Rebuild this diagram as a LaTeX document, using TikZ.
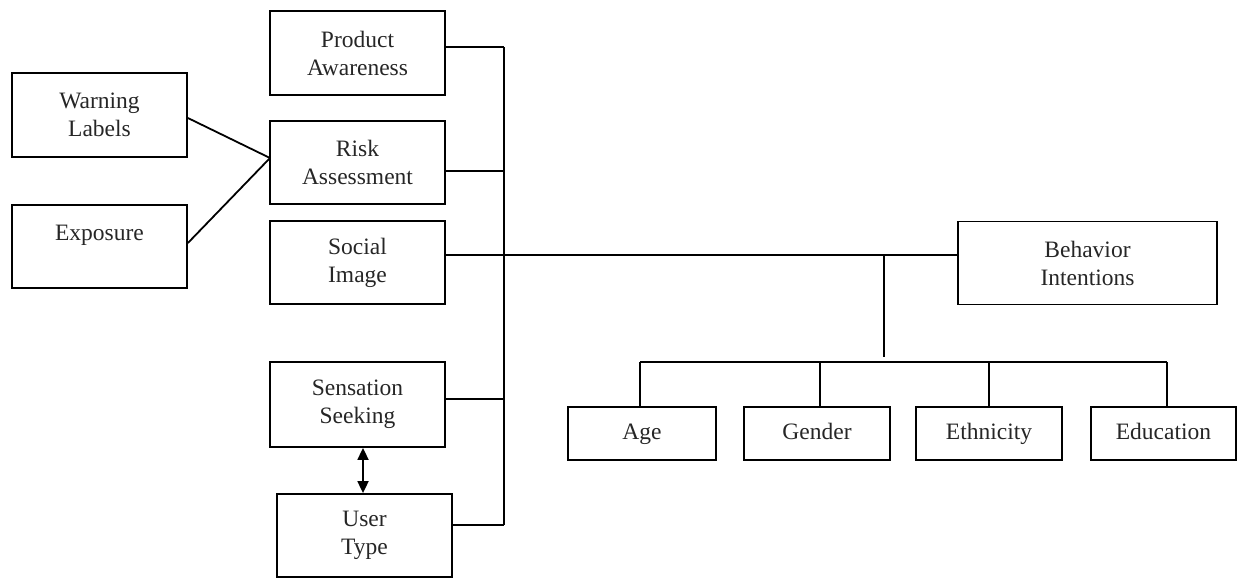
\documentclass[tikz,border=0pt]{standalone}
\usepackage{fontspec}
\setmainfont{Liberation Serif}
\usetikzlibrary{arrows.meta}
\begin{document}
\begin{tikzpicture}[x=1pt,y=-1pt,
  box/.style={draw, line width=1.8pt, inner sep=0pt, align=center,
    text=black!85, font=\fontsize{23.5}{28}\selectfont},
  link/.style={line width=1.8pt},
  both/.style={line width=1.8pt, {Triangle[width=11pt,length=12pt]}-{Triangle[width=11pt,length=12pt]}}]
\useasboundingbox (0,0) rectangle (1238,579);

% left-hand factors
\node[box, minimum width=175pt, minimum height=84pt] (wl) at (99.5,115) {Warning\\Labels};
\node[box, minimum width=175pt, minimum height=83pt] (ex) at (99.5,246.5) {Exposure\\\phantom{X}};

% central column
\node[box, minimum width=175pt, minimum height=84pt] (pa) at (357.5,53) {Product\\Awareness};
\node[box, minimum width=175pt, minimum height=83pt] (ra) at (357.5,162.5) {Risk\\Assessment};
\node[box, minimum width=175pt, minimum height=83pt] (si) at (357.5,262.5) {Social\\Image};
\node[box, minimum width=175pt, minimum height=85pt] (ss) at (357.5,404.5) {Sensation\\Seeking};
\node[box, minimum width=175pt, minimum height=83pt] (ut) at (364.5,535.5) {User\\Type};

% outcome
\node[box, minimum width=259pt, minimum height=83pt] (bi) at (1087.5,263) {Behavior\\Intentions};

% moderators
\node[box, minimum width=148pt, minimum height=53pt] (age) at (642,433.5) {Age\strut};
\node[box, minimum width=146pt, minimum height=53pt] (gen) at (817,433.5) {Gender\strut};
\node[box, minimum width=146pt, minimum height=53pt] (eth) at (989,433.5) {Ethnicity\strut};
\node[box, minimum width=145pt, minimum height=53pt] (edu) at (1163.5,433.5) {Education\strut};

% junction points
\coordinate (conv) at (270,158);
\coordinate (b1) at (504,47);
\coordinate (b2) at (504,171);
\coordinate (b3) at (504,255);
\coordinate (b4) at (504,399);
\coordinate (b5) at (504,525);
\coordinate (drop) at (884,255);
\coordinate (dropend) at (884,357);
\coordinate (barL) at (640,362);
\coordinate (barR) at (1167,362);
\coordinate (barG) at (820,362);
\coordinate (barE) at (989,362);

% converging lines into risk assessment
\draw[link] ([yshift=-3pt]wl.east) -- (conv);
\draw[link] ([yshift=3.5pt]ex.east) -- (conv);

% bus on the right of the central column
\draw[link] (b1) -- (b5);
\draw[link] (pa.east |- b1) -- (b1);
\draw[link] (ra.east |- b2) -- (b2);
\draw[link] (si.east |- b3) -- (bi.west |- b3);
\draw[link] (ss.east |- b4) -- (b4);
\draw[link] (ut.east |- b5) -- (b5);

% sensation seeking <-> user type
\draw[both] (ss.south -| 363,0) -- (ut.north -| 363,0);

% moderator tree
\draw[link] (drop) -- (dropend);
\draw[link] (barL) -- (barR);
\draw[link] (barL) -- (age.north -| barL);
\draw[link] (barG) -- (gen.north -| barG);
\draw[link] (barE) -- (eth.north -| barE);
\draw[link] (barR) -- (edu.north -| barR);
\end{tikzpicture}
\end{document}
